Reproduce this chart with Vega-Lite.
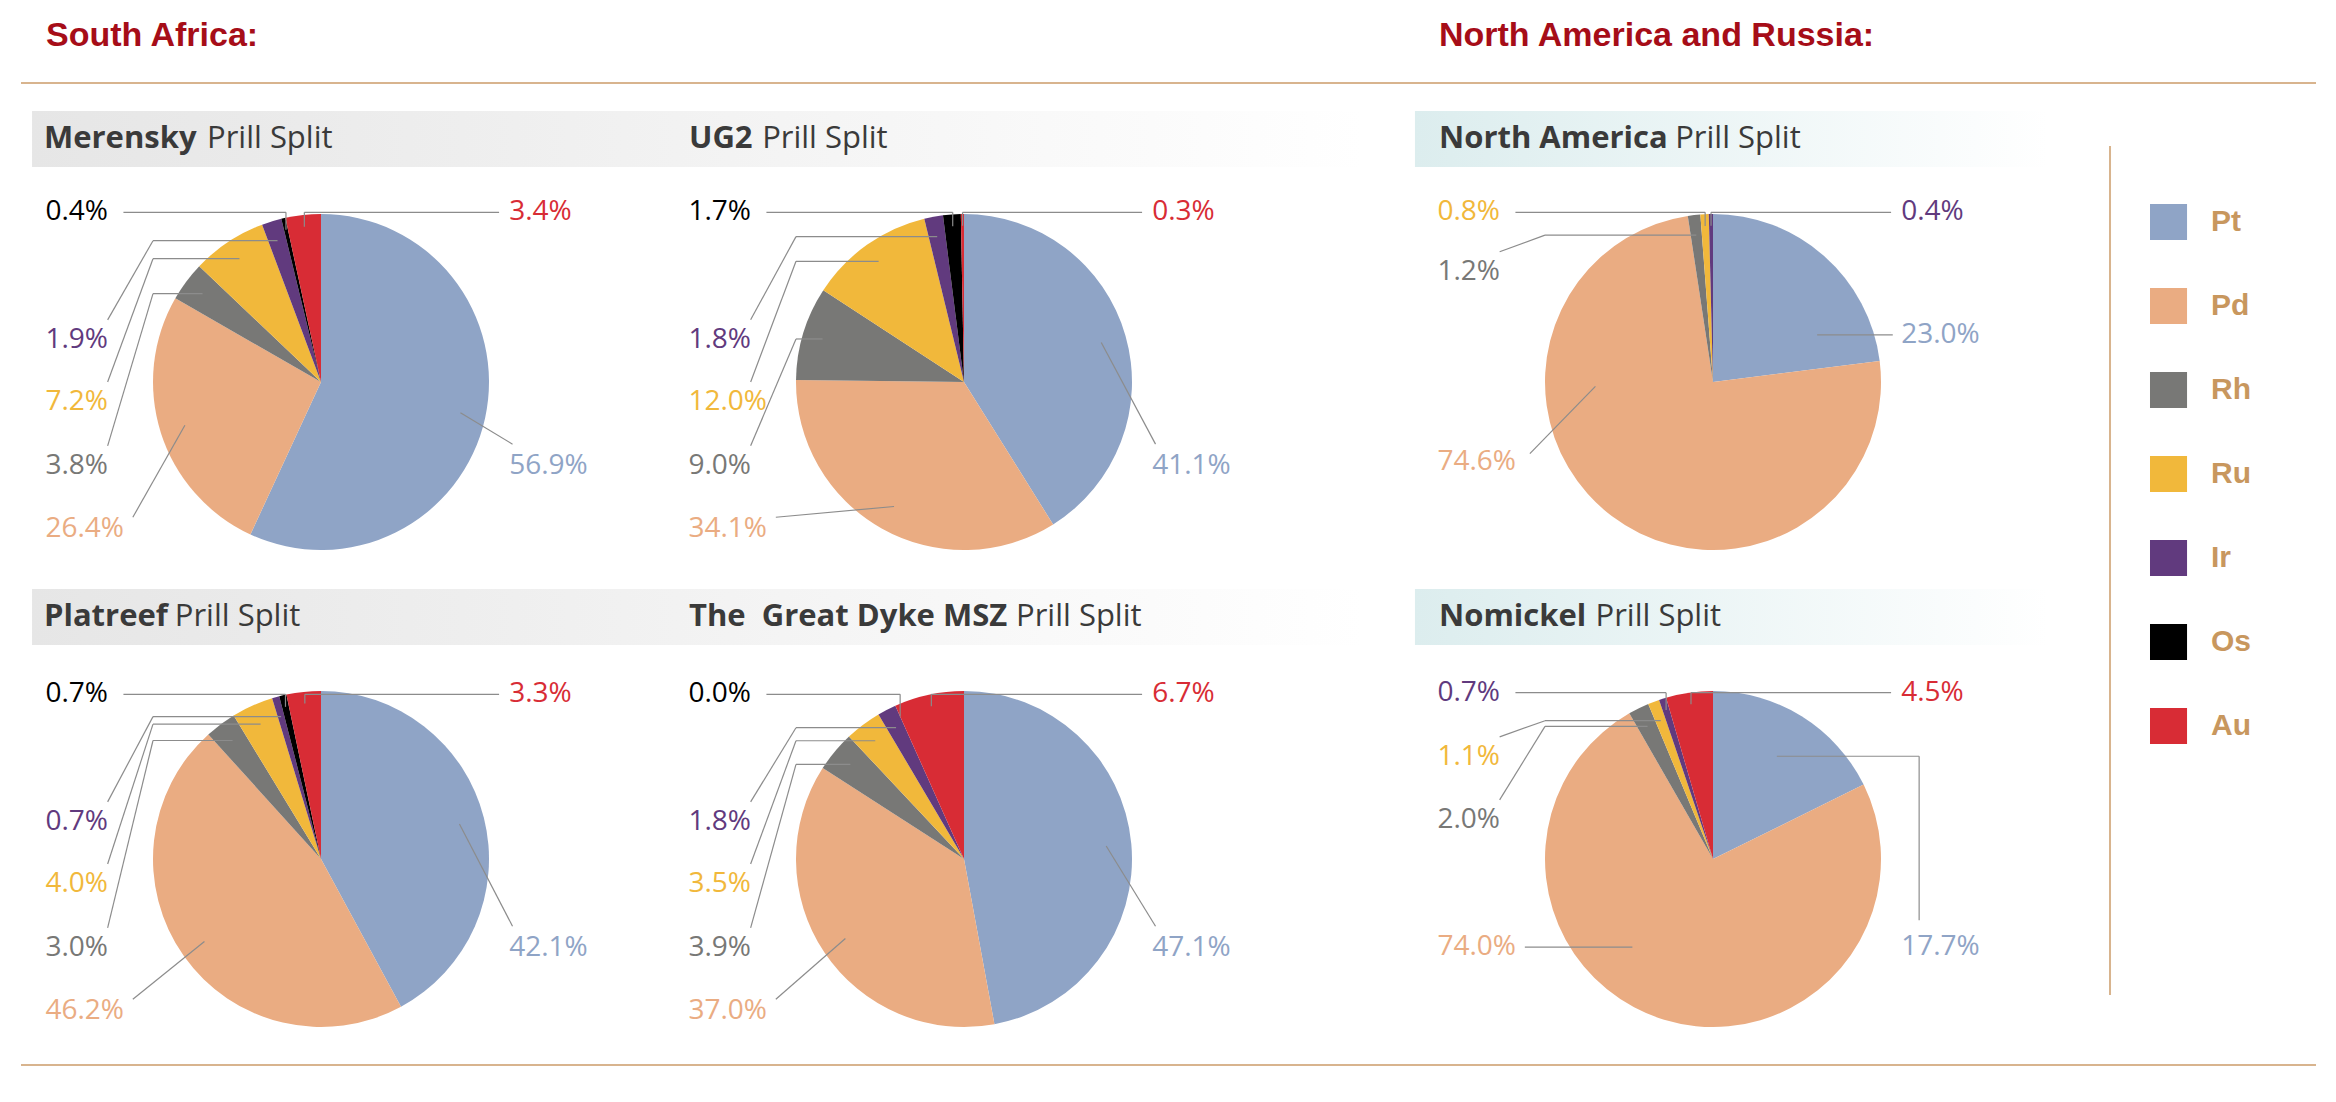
{
  "$schema": "https://vega.github.io/schema/vega-lite/v6.json",
  "background": "#ffffff",
  "padding": {"left": 21, "right": 20, "top": 0, "bottom": 0},
  "config": {"view": {"stroke": null}, "axis": {"disable": true}, "legend": {"disable": true}, "concat": {"spacing": 0}},
  "datasets": {
    "prill": [
      {"region": "South Africa", "panel": "Merensky", "metal": "Pt", "pct": 56.9},
      {"region": "South Africa", "panel": "Merensky", "metal": "Pd", "pct": 26.4},
      {"region": "South Africa", "panel": "Merensky", "metal": "Rh", "pct": 3.8},
      {"region": "South Africa", "panel": "Merensky", "metal": "Ru", "pct": 7.2},
      {"region": "South Africa", "panel": "Merensky", "metal": "Ir", "pct": 1.9},
      {"region": "South Africa", "panel": "Merensky", "metal": "Os", "pct": 0.4},
      {"region": "South Africa", "panel": "Merensky", "metal": "Au", "pct": 3.4},
      {"region": "South Africa", "panel": "UG2", "metal": "Pt", "pct": 41.1},
      {"region": "South Africa", "panel": "UG2", "metal": "Pd", "pct": 34.1},
      {"region": "South Africa", "panel": "UG2", "metal": "Rh", "pct": 9.0},
      {"region": "South Africa", "panel": "UG2", "metal": "Ru", "pct": 12.0},
      {"region": "South Africa", "panel": "UG2", "metal": "Ir", "pct": 1.8},
      {"region": "South Africa", "panel": "UG2", "metal": "Os", "pct": 1.7},
      {"region": "South Africa", "panel": "UG2", "metal": "Au", "pct": 0.3},
      {"region": "South Africa", "panel": "Platreef", "metal": "Pt", "pct": 42.1},
      {"region": "South Africa", "panel": "Platreef", "metal": "Pd", "pct": 46.2},
      {"region": "South Africa", "panel": "Platreef", "metal": "Rh", "pct": 3.0},
      {"region": "South Africa", "panel": "Platreef", "metal": "Ru", "pct": 4.0},
      {"region": "South Africa", "panel": "Platreef", "metal": "Ir", "pct": 0.7},
      {"region": "South Africa", "panel": "Platreef", "metal": "Os", "pct": 0.7},
      {"region": "South Africa", "panel": "Platreef", "metal": "Au", "pct": 3.3},
      {"region": "South Africa", "panel": "The  Great Dyke MSZ", "metal": "Pt", "pct": 47.1},
      {"region": "South Africa", "panel": "The  Great Dyke MSZ", "metal": "Pd", "pct": 37.0},
      {"region": "South Africa", "panel": "The  Great Dyke MSZ", "metal": "Rh", "pct": 3.9},
      {"region": "South Africa", "panel": "The  Great Dyke MSZ", "metal": "Ru", "pct": 3.5},
      {"region": "South Africa", "panel": "The  Great Dyke MSZ", "metal": "Ir", "pct": 1.8},
      {"region": "South Africa", "panel": "The  Great Dyke MSZ", "metal": "Os", "pct": 0.0},
      {"region": "South Africa", "panel": "The  Great Dyke MSZ", "metal": "Au", "pct": 6.7},
      {"region": "North America and Russia", "panel": "North America", "metal": "Pt", "pct": 23.0},
      {"region": "North America and Russia", "panel": "North America", "metal": "Pd", "pct": 74.6},
      {"region": "North America and Russia", "panel": "North America", "metal": "Rh", "pct": 1.2},
      {"region": "North America and Russia", "panel": "North America", "metal": "Ru", "pct": 0.8},
      {"region": "North America and Russia", "panel": "North America", "metal": "Ir", "pct": 0.4},
      {"region": "North America and Russia", "panel": "Nomickel", "metal": "Pt", "pct": 17.7},
      {"region": "North America and Russia", "panel": "Nomickel", "metal": "Pd", "pct": 74.0},
      {"region": "North America and Russia", "panel": "Nomickel", "metal": "Rh", "pct": 2.0},
      {"region": "North America and Russia", "panel": "Nomickel", "metal": "Ru", "pct": 1.1},
      {"region": "North America and Russia", "panel": "Nomickel", "metal": "Ir", "pct": 0.7},
      {"region": "North America and Russia", "panel": "Nomickel", "metal": "Au", "pct": 4.5}
    ]
  },
  "data": {"name": "prill"},
  "transform": [
    {"calculate": "indexof(['Pt','Pd','Rh','Ru','Ir','Os','Au'], datum.metal)", "as": "ord"},
    {"window": [{"op": "sum", "field": "pct", "as": "cum"}], "groupby": ["panel"], "sort": [{"field": "ord", "order": "ascending"}], "frame": [null, 0]},
    {"calculate": "(datum.cum - datum.pct / 2) / 100 * 2 * PI", "as": "theta"},
    {"calculate": "datum.panel == 'North America' ? 1 : (datum.panel == 'Nomickel' ? 2 : 0)", "as": "layout"},
    {"calculate": "[[1.12,-1.64,-1.64,-1.64,-1.64,-1.64,1.12],[1.12,-1.64,-1.64,-1.64,1.12,0,0],[1.12,-1.64,-1.64,-1.64,-1.64,0,1.12]][datum.layout][datum.ord]", "as": "LX"},
    {"calculate": "[[0.5,0.875,0.5,0.12,-0.25,-1.01,-1.01],[-0.28,0.476,-0.655,-1.01,-1.01,0,0],[0.524,0.524,-0.232,-0.607,-0.99,0,-0.99]][datum.layout][datum.ord] + ((datum.panel == 'Platreef' || datum.panel == 'The  Great Dyke MSZ') ? 0.03 : 0)", "as": "LY"},
    {"calculate": "[['SR','SL','EL','EL','EL','TL','TR'],['HR','DL','EL','TL','TR','',''],['ER','HL','EL','EL','TL','','TR']][datum.layout][datum.ord]", "as": "LT"},
    {"calculate": "indexof(['TL','TR','EL','SL','SR','ER','HL','HR','DL'], datum.LT)", "as": "k"},
    {"calculate": "[0.93,0.93,0.88,0.85,0.85,0.72,0.85,0.85,0.85][datum.k]", "as": "rho"},
    {"calculate": "datum.k == 6 ? datum.LX + 1.16 : (datum.k == 7 ? datum.LX - 0.5 : (datum.k == 8 ? datum.LX + 0.94 : datum.rho * sin(datum.theta)))", "as": "PX"},
    {"calculate": "(datum.k == 6 || datum.k == 7) ? datum.LY : (datum.k == 8 ? datum.LY - 0.45 : -datum.rho * cos(datum.theta))", "as": "PY"},
    {"calculate": "datum.LX + [0.464,-0.06,0.37,0.52,0.02,0.107,0.52,-0.05,0.55][datum.k]", "as": "SX"},
    {"calculate": "datum.LY + [0,0,-0.12,-0.07,-0.13,-0.16,0,0,-0.05][datum.k]", "as": "SY"},
    {"calculate": "datum.k <= 1 ? datum.PX : (datum.k == 2 ? -1.0 : datum.SX)", "as": "EX"},
    {"calculate": "datum.k <= 1 ? datum.LY : ((datum.k == 2 || datum.k == 5) ? datum.PY : datum.SY)", "as": "EY"},
    {"calculate": "format(datum.pct, '.1f') + '%'", "as": "label"},
    {"calculate": "replace(datum.panel, '  ', '\u00a0 ')", "as": "PN"},
    {"calculate": "0.6*length(datum.panel) - 0.28*(length(datum.panel) - length(replace(datum.panel, regexp('[iljft ]','g'), ''))) - 0.15*(length(datum.panel) - length(replace(datum.panel, regexp('r','g'), ''))) + 0.15*(length(datum.panel) - length(replace(datum.panel, regexp('[A-Z]','g'), ''))) + 0.4*(length(datum.panel) - length(replace(datum.panel, regexp('m','g'), ''))) + 0.2*(length(datum.panel) - length(replace(datum.panel, regexp('M','g'), ''))) - 0.22*(length(datum.panel) - length(replace(datum.panel, regexp('[TSZ]','g'), '')))", "as": "NW"}
  ],
  "spacing": 0,
  "hconcat": [
    {
      "spacing": 0,
      "vconcat": [
        {
          "width": 656, "height": 578,
          "transform": [{"filter": "datum.panel == 'Merensky'"}],
          "encoding": {
            "x": {"field": "X", "type": "quantitative", "scale": {"domain": [-1.7857, 2.119], "nice": false, "zero": false}},
            "y": {"field": "Y", "type": "quantitative", "scale": {"domain": [-2.2738, 1.1667], "nice": false, "zero": false, "reverse": true}}
          },
          "layer": [
            {"transform": [{"aggregate": [{"op": "count", "as": "n"}]}, {"calculate": "-1.7857", "as": "X"}, {"calculate": "2.119", "as": "X2"}, {"calculate": "-1.786", "as": "Y"}, {"calculate": "-1.774", "as": "Y2"}],
             "mark": {"type": "rect", "color": "#D8B48E"}, "encoding": {"x2": {"field": "X2"}, "y2": {"field": "Y2"}}},
            {"transform": [{"aggregate": [{"op": "count", "as": "n"}]}, {"calculate": "-1.72", "as": "X"}, {"calculate": "2.119", "as": "X2"}, {"calculate": "-1.613", "as": "Y"}, {"calculate": "-1.28", "as": "Y2"}],
             "mark": {"type": "rect", "color": {"gradient": "linear", "x1": 0, "y1": 0, "x2": 1, "y2": 0, "stops": [{"offset": 0, "color": "#e6e6e6"}, {"offset": 1, "color": "#f2f2f2"}]}},
             "encoding": {"x2": {"field": "X2"}, "y2": {"field": "Y2"}}},
            {"transform": [{"aggregate": [{"op": "count", "as": "n"}], "groupby": ["region"]}, {"calculate": "-1.637", "as": "X"}, {"calculate": "-2.0", "as": "Y"}, {"calculate": "datum.region + ':'", "as": "T"}],
             "mark": {"type": "text", "font": "Liberation Sans", "fontWeight": "bold", "fontSize": 34, "color": "#A60D18", "align": "left", "baseline": "alphabetic"},
             "encoding": {"text": {"field": "T"}}},
            {"transform": [{"aggregate": [{"op": "count", "as": "n"}], "groupby": ["PN"]}, {"calculate": "-1.649", "as": "X"}, {"calculate": "-1.446", "as": "Y"}],
             "mark": {"type": "text", "font": "Open Sans", "fontWeight": "bold", "fontSize": 31, "color": "#3a3a3a", "align": "left", "baseline": "middle"},
             "encoding": {"text": {"field": "PN"}}},
            {"transform": [{"aggregate": [{"op": "count", "as": "n"}], "groupby": ["panel", "NW"]}, {"calculate": "-1.649 + (datum.NW + 0.26) * 31 / 168", "as": "X"}, {"calculate": "-1.446", "as": "Y"}],
             "mark": {"type": "text", "font": "Open Sans", "fontSize": 31, "color": "#3a3a3a", "align": "left", "baseline": "middle"},
             "encoding": {"text": {"value": "Prill Split"}}},
            {"transform": [{"calculate": "0", "as": "X"}, {"calculate": "0", "as": "Y"}],
             "mark": {"type": "arc", "outerRadius": 168, "stroke": null},
             "encoding": {"theta": {"field": "pct", "type": "quantitative", "stack": true}, "order": {"field": "ord", "type": "quantitative"},
               "color": {"field": "metal", "type": "nominal", "scale": {"domain": ["Pt","Pd","Rh","Ru","Ir","Os","Au"], "range": ["#8FA4C6","#EAAC82","#787876","#F1B83B","#613A7E","#000000","#D82C35"]}, "legend": null}}},
            {"transform": [{"calculate": "datum.SX", "as": "X"}, {"calculate": "datum.SY", "as": "Y"}, {"calculate": "datum.EX", "as": "X2"}, {"calculate": "datum.EY", "as": "Y2"}],
             "mark": {"type": "rule", "color": "#8c8c8c", "strokeWidth": 1.2}, "encoding": {"x2": {"field": "X2"}, "y2": {"field": "Y2"}}},
            {"transform": [{"calculate": "datum.EX", "as": "X"}, {"calculate": "datum.EY", "as": "Y"}, {"calculate": "datum.PX", "as": "X2"}, {"calculate": "datum.PY", "as": "Y2"}],
             "mark": {"type": "rule", "color": "#8c8c8c", "strokeWidth": 1.2}, "encoding": {"x2": {"field": "X2"}, "y2": {"field": "Y2"}}},
            {"transform": [{"calculate": "datum.LX", "as": "X"}, {"calculate": "datum.LY", "as": "Y"}],
             "mark": {"type": "text", "font": "Open Sans", "fontSize": 28, "align": "left", "baseline": "middle"},
             "encoding": {"text": {"field": "label"}, "color": {"field": "metal", "type": "nominal", "scale": {"domain": ["Pt","Pd","Rh","Ru","Ir","Os","Au"], "range": ["#8FA4C6","#EAAC82","#787876","#F1B83B","#613A7E","#000000","#D82C35"]}, "legend": null}}}
          ]
        },
        {
          "width": 656, "height": 524,
          "transform": [{"filter": "datum.panel == 'Platreef'"}],
          "encoding": {
            "x": {"field": "X", "type": "quantitative", "scale": {"domain": [-1.7857, 2.119], "nice": false, "zero": false}},
            "y": {"field": "Y", "type": "quantitative", "scale": {"domain": [-1.6726, 1.4464], "nice": false, "zero": false, "reverse": true}}
          },
          "layer": [
            {"transform": [{"aggregate": [{"op": "count", "as": "n"}]}, {"calculate": "-1.7857", "as": "X"}, {"calculate": "2.119", "as": "X2"}, {"calculate": "1.22", "as": "Y"}, {"calculate": "1.232", "as": "Y2"}],
             "mark": {"type": "rect", "color": "#D8B48E"}, "encoding": {"x2": {"field": "X2"}, "y2": {"field": "Y2"}}},
            {"transform": [{"aggregate": [{"op": "count", "as": "n"}]}, {"calculate": "-1.72", "as": "X"}, {"calculate": "2.119", "as": "X2"}, {"calculate": "-1.607", "as": "Y"}, {"calculate": "-1.274", "as": "Y2"}],
             "mark": {"type": "rect", "color": {"gradient": "linear", "x1": 0, "y1": 0, "x2": 1, "y2": 0, "stops": [{"offset": 0, "color": "#e6e6e6"}, {"offset": 1, "color": "#f2f2f2"}]}},
             "encoding": {"x2": {"field": "X2"}, "y2": {"field": "Y2"}}},
            {"transform": [{"aggregate": [{"op": "count", "as": "n"}], "groupby": ["PN"]}, {"calculate": "-1.649", "as": "X"}, {"calculate": "-1.44", "as": "Y"}],
             "mark": {"type": "text", "font": "Open Sans", "fontWeight": "bold", "fontSize": 31, "color": "#3a3a3a", "align": "left", "baseline": "middle"},
             "encoding": {"text": {"field": "PN"}}},
            {"transform": [{"aggregate": [{"op": "count", "as": "n"}], "groupby": ["panel", "NW"]}, {"calculate": "-1.649 + (datum.NW + 0.26) * 31 / 168", "as": "X"}, {"calculate": "-1.44", "as": "Y"}],
             "mark": {"type": "text", "font": "Open Sans", "fontSize": 31, "color": "#3a3a3a", "align": "left", "baseline": "middle"},
             "encoding": {"text": {"value": "Prill Split"}}},
            {"transform": [{"calculate": "0", "as": "X"}, {"calculate": "0", "as": "Y"}],
             "mark": {"type": "arc", "outerRadius": 168, "stroke": null},
             "encoding": {"theta": {"field": "pct", "type": "quantitative", "stack": true}, "order": {"field": "ord", "type": "quantitative"},
               "color": {"field": "metal", "type": "nominal", "scale": {"domain": ["Pt","Pd","Rh","Ru","Ir","Os","Au"], "range": ["#8FA4C6","#EAAC82","#787876","#F1B83B","#613A7E","#000000","#D82C35"]}, "legend": null}}},
            {"transform": [{"calculate": "datum.SX", "as": "X"}, {"calculate": "datum.SY", "as": "Y"}, {"calculate": "datum.EX", "as": "X2"}, {"calculate": "datum.EY", "as": "Y2"}],
             "mark": {"type": "rule", "color": "#8c8c8c", "strokeWidth": 1.2}, "encoding": {"x2": {"field": "X2"}, "y2": {"field": "Y2"}}},
            {"transform": [{"calculate": "datum.EX", "as": "X"}, {"calculate": "datum.EY", "as": "Y"}, {"calculate": "datum.PX", "as": "X2"}, {"calculate": "datum.PY", "as": "Y2"}],
             "mark": {"type": "rule", "color": "#8c8c8c", "strokeWidth": 1.2}, "encoding": {"x2": {"field": "X2"}, "y2": {"field": "Y2"}}},
            {"transform": [{"calculate": "datum.LX", "as": "X"}, {"calculate": "datum.LY", "as": "Y"}],
             "mark": {"type": "text", "font": "Open Sans", "fontSize": 28, "align": "left", "baseline": "middle"},
             "encoding": {"text": {"field": "label"}, "color": {"field": "metal", "type": "nominal", "scale": {"domain": ["Pt","Pd","Rh","Ru","Ir","Os","Au"], "range": ["#8FA4C6","#EAAC82","#787876","#F1B83B","#613A7E","#000000","#D82C35"]}, "legend": null}}}
          ]
        }
      ]
    },
    {
      "spacing": 0,
      "vconcat": [
        {
          "width": 713, "height": 578,
          "transform": [{"filter": "datum.panel == 'UG2'"}],
          "encoding": {
            "x": {"field": "X", "type": "quantitative", "scale": {"domain": [-1.7083, 2.5357], "nice": false, "zero": false}},
            "y": {"field": "Y", "type": "quantitative", "scale": {"domain": [-2.2738, 1.1667], "nice": false, "zero": false, "reverse": true}}
          },
          "layer": [
            {"transform": [{"aggregate": [{"op": "count", "as": "n"}]}, {"calculate": "-1.7083", "as": "X"}, {"calculate": "2.5357", "as": "X2"}, {"calculate": "-1.786", "as": "Y"}, {"calculate": "-1.774", "as": "Y2"}],
             "mark": {"type": "rect", "color": "#D8B48E"}, "encoding": {"x2": {"field": "X2"}, "y2": {"field": "Y2"}}},
            {"transform": [{"aggregate": [{"op": "count", "as": "n"}]}, {"calculate": "-1.7083", "as": "X"}, {"calculate": "2.375", "as": "X2"}, {"calculate": "-1.613", "as": "Y"}, {"calculate": "-1.28", "as": "Y2"}],
             "mark": {"type": "rect", "color": {"gradient": "linear", "x1": 0, "y1": 0, "x2": 1, "y2": 0, "stops": [{"offset": 0, "color": "#f2f2f2"}, {"offset": 1, "color": "#ffffff"}]}},
             "encoding": {"x2": {"field": "X2"}, "y2": {"field": "Y2"}}},
            {"transform": [{"aggregate": [{"op": "count", "as": "n"}], "groupby": ["PN"]}, {"calculate": "-1.637", "as": "X"}, {"calculate": "-1.446", "as": "Y"}],
             "mark": {"type": "text", "font": "Open Sans", "fontWeight": "bold", "fontSize": 31, "color": "#3a3a3a", "align": "left", "baseline": "middle"},
             "encoding": {"text": {"field": "PN"}}},
            {"transform": [{"aggregate": [{"op": "count", "as": "n"}], "groupby": ["panel", "NW"]}, {"calculate": "-1.637 + (datum.NW + 0.26) * 31 / 168", "as": "X"}, {"calculate": "-1.446", "as": "Y"}],
             "mark": {"type": "text", "font": "Open Sans", "fontSize": 31, "color": "#3a3a3a", "align": "left", "baseline": "middle"},
             "encoding": {"text": {"value": "Prill Split"}}},
            {"transform": [{"calculate": "0", "as": "X"}, {"calculate": "0", "as": "Y"}],
             "mark": {"type": "arc", "outerRadius": 168, "stroke": null},
             "encoding": {"theta": {"field": "pct", "type": "quantitative", "stack": true}, "order": {"field": "ord", "type": "quantitative"},
               "color": {"field": "metal", "type": "nominal", "scale": {"domain": ["Pt","Pd","Rh","Ru","Ir","Os","Au"], "range": ["#8FA4C6","#EAAC82","#787876","#F1B83B","#613A7E","#000000","#D82C35"]}, "legend": null}}},
            {"transform": [{"calculate": "datum.SX", "as": "X"}, {"calculate": "datum.SY", "as": "Y"}, {"calculate": "datum.EX", "as": "X2"}, {"calculate": "datum.EY", "as": "Y2"}],
             "mark": {"type": "rule", "color": "#8c8c8c", "strokeWidth": 1.2}, "encoding": {"x2": {"field": "X2"}, "y2": {"field": "Y2"}}},
            {"transform": [{"calculate": "datum.EX", "as": "X"}, {"calculate": "datum.EY", "as": "Y"}, {"calculate": "datum.PX", "as": "X2"}, {"calculate": "datum.PY", "as": "Y2"}],
             "mark": {"type": "rule", "color": "#8c8c8c", "strokeWidth": 1.2}, "encoding": {"x2": {"field": "X2"}, "y2": {"field": "Y2"}}},
            {"transform": [{"calculate": "datum.LX", "as": "X"}, {"calculate": "datum.LY", "as": "Y"}],
             "mark": {"type": "text", "font": "Open Sans", "fontSize": 28, "align": "left", "baseline": "middle"},
             "encoding": {"text": {"field": "label"}, "color": {"field": "metal", "type": "nominal", "scale": {"domain": ["Pt","Pd","Rh","Ru","Ir","Os","Au"], "range": ["#8FA4C6","#EAAC82","#787876","#F1B83B","#613A7E","#000000","#D82C35"]}, "legend": null}}}
          ]
        },
        {
          "width": 713, "height": 524,
          "transform": [{"filter": "datum.panel == 'The  Great Dyke MSZ'"}],
          "encoding": {
            "x": {"field": "X", "type": "quantitative", "scale": {"domain": [-1.7083, 2.5357], "nice": false, "zero": false}},
            "y": {"field": "Y", "type": "quantitative", "scale": {"domain": [-1.6726, 1.4464], "nice": false, "zero": false, "reverse": true}}
          },
          "layer": [
            {"transform": [{"aggregate": [{"op": "count", "as": "n"}]}, {"calculate": "-1.7083", "as": "X"}, {"calculate": "2.5357", "as": "X2"}, {"calculate": "1.22", "as": "Y"}, {"calculate": "1.232", "as": "Y2"}],
             "mark": {"type": "rect", "color": "#D8B48E"}, "encoding": {"x2": {"field": "X2"}, "y2": {"field": "Y2"}}},
            {"transform": [{"aggregate": [{"op": "count", "as": "n"}]}, {"calculate": "-1.7083", "as": "X"}, {"calculate": "2.375", "as": "X2"}, {"calculate": "-1.607", "as": "Y"}, {"calculate": "-1.274", "as": "Y2"}],
             "mark": {"type": "rect", "color": {"gradient": "linear", "x1": 0, "y1": 0, "x2": 1, "y2": 0, "stops": [{"offset": 0, "color": "#f2f2f2"}, {"offset": 1, "color": "#ffffff"}]}},
             "encoding": {"x2": {"field": "X2"}, "y2": {"field": "Y2"}}},
            {"transform": [{"aggregate": [{"op": "count", "as": "n"}], "groupby": ["PN"]}, {"calculate": "-1.637", "as": "X"}, {"calculate": "-1.44", "as": "Y"}],
             "mark": {"type": "text", "font": "Open Sans", "fontWeight": "bold", "fontSize": 31, "color": "#3a3a3a", "align": "left", "baseline": "middle"},
             "encoding": {"text": {"field": "PN"}}},
            {"transform": [{"aggregate": [{"op": "count", "as": "n"}], "groupby": ["panel", "NW"]}, {"calculate": "-1.637 + (datum.NW + 0.26) * 31 / 168", "as": "X"}, {"calculate": "-1.44", "as": "Y"}],
             "mark": {"type": "text", "font": "Open Sans", "fontSize": 31, "color": "#3a3a3a", "align": "left", "baseline": "middle"},
             "encoding": {"text": {"value": "Prill Split"}}},
            {"transform": [{"calculate": "0", "as": "X"}, {"calculate": "0", "as": "Y"}],
             "mark": {"type": "arc", "outerRadius": 168, "stroke": null},
             "encoding": {"theta": {"field": "pct", "type": "quantitative", "stack": true}, "order": {"field": "ord", "type": "quantitative"},
               "color": {"field": "metal", "type": "nominal", "scale": {"domain": ["Pt","Pd","Rh","Ru","Ir","Os","Au"], "range": ["#8FA4C6","#EAAC82","#787876","#F1B83B","#613A7E","#000000","#D82C35"]}, "legend": null}}},
            {"transform": [{"calculate": "datum.SX", "as": "X"}, {"calculate": "datum.SY", "as": "Y"}, {"calculate": "datum.EX", "as": "X2"}, {"calculate": "datum.EY", "as": "Y2"}],
             "mark": {"type": "rule", "color": "#8c8c8c", "strokeWidth": 1.2}, "encoding": {"x2": {"field": "X2"}, "y2": {"field": "Y2"}}},
            {"transform": [{"calculate": "datum.EX", "as": "X"}, {"calculate": "datum.EY", "as": "Y"}, {"calculate": "datum.PX", "as": "X2"}, {"calculate": "datum.PY", "as": "Y2"}],
             "mark": {"type": "rule", "color": "#8c8c8c", "strokeWidth": 1.2}, "encoding": {"x2": {"field": "X2"}, "y2": {"field": "Y2"}}},
            {"transform": [{"calculate": "datum.LX", "as": "X"}, {"calculate": "datum.LY", "as": "Y"}],
             "mark": {"type": "text", "font": "Open Sans", "fontSize": 28, "align": "left", "baseline": "middle"},
             "encoding": {"text": {"field": "label"}, "color": {"field": "metal", "type": "nominal", "scale": {"domain": ["Pt","Pd","Rh","Ru","Ir","Os","Au"], "range": ["#8FA4C6","#EAAC82","#787876","#F1B83B","#613A7E","#000000","#D82C35"]}, "legend": null}}}
          ]
        }
      ]
    },
    {
      "spacing": 0,
      "vconcat": [
        {
          "width": 719, "height": 578,
          "transform": [{"filter": "datum.panel == 'North America'"}],
          "encoding": {
            "x": {"field": "X", "type": "quantitative", "scale": {"domain": [-1.9226, 2.3571], "nice": false, "zero": false}},
            "y": {"field": "Y", "type": "quantitative", "scale": {"domain": [-2.2738, 1.1667], "nice": false, "zero": false, "reverse": true}}
          },
          "layer": [
            {"transform": [{"aggregate": [{"op": "count", "as": "n"}]}, {"calculate": "-1.9226", "as": "X"}, {"calculate": "2.3571", "as": "X2"}, {"calculate": "-1.786", "as": "Y"}, {"calculate": "-1.774", "as": "Y2"}],
             "mark": {"type": "rect", "color": "#D8B48E"}, "encoding": {"x2": {"field": "X2"}, "y2": {"field": "Y2"}}},
            {"transform": [{"aggregate": [{"op": "count", "as": "n"}]}, {"calculate": "-1.774", "as": "X"}, {"calculate": "1.994", "as": "X2"}, {"calculate": "-1.613", "as": "Y"}, {"calculate": "-1.28", "as": "Y2"}],
             "mark": {"type": "rect", "color": {"gradient": "linear", "x1": 0, "y1": 0, "x2": 1, "y2": 0, "stops": [{"offset": 0, "color": "#dcedee"}, {"offset": 1, "color": "#ffffff"}]}},
             "encoding": {"x2": {"field": "X2"}, "y2": {"field": "Y2"}}},
            {"transform": [{"aggregate": [{"op": "count", "as": "n"}], "groupby": ["region"]}, {"calculate": "-1.631", "as": "X"}, {"calculate": "-2.0", "as": "Y"}, {"calculate": "datum.region + ':'", "as": "T"}],
             "mark": {"type": "text", "font": "Liberation Sans", "fontWeight": "bold", "fontSize": 34, "color": "#A60D18", "align": "left", "baseline": "alphabetic"},
             "encoding": {"text": {"field": "T"}}},
            {"transform": [{"aggregate": [{"op": "count", "as": "n"}], "groupby": ["PN"]}, {"calculate": "-1.631", "as": "X"}, {"calculate": "-1.446", "as": "Y"}],
             "mark": {"type": "text", "font": "Open Sans", "fontWeight": "bold", "fontSize": 31, "color": "#3a3a3a", "align": "left", "baseline": "middle"},
             "encoding": {"text": {"field": "PN"}}},
            {"transform": [{"aggregate": [{"op": "count", "as": "n"}], "groupby": ["panel", "NW"]}, {"calculate": "-1.631 + (datum.NW + 0.26) * 31 / 168", "as": "X"}, {"calculate": "-1.446", "as": "Y"}],
             "mark": {"type": "text", "font": "Open Sans", "fontSize": 31, "color": "#3a3a3a", "align": "left", "baseline": "middle"},
             "encoding": {"text": {"value": "Prill Split"}}},
            {"transform": [{"calculate": "0", "as": "X"}, {"calculate": "0", "as": "Y"}],
             "mark": {"type": "arc", "outerRadius": 168, "stroke": null},
             "encoding": {"theta": {"field": "pct", "type": "quantitative", "stack": true}, "order": {"field": "ord", "type": "quantitative"},
               "color": {"field": "metal", "type": "nominal", "scale": {"domain": ["Pt","Pd","Rh","Ru","Ir","Os","Au"], "range": ["#8FA4C6","#EAAC82","#787876","#F1B83B","#613A7E","#000000","#D82C35"]}, "legend": null}}},
            {"transform": [{"calculate": "datum.SX", "as": "X"}, {"calculate": "datum.SY", "as": "Y"}, {"calculate": "datum.EX", "as": "X2"}, {"calculate": "datum.EY", "as": "Y2"}],
             "mark": {"type": "rule", "color": "#8c8c8c", "strokeWidth": 1.2}, "encoding": {"x2": {"field": "X2"}, "y2": {"field": "Y2"}}},
            {"transform": [{"calculate": "datum.EX", "as": "X"}, {"calculate": "datum.EY", "as": "Y"}, {"calculate": "datum.PX", "as": "X2"}, {"calculate": "datum.PY", "as": "Y2"}],
             "mark": {"type": "rule", "color": "#8c8c8c", "strokeWidth": 1.2}, "encoding": {"x2": {"field": "X2"}, "y2": {"field": "Y2"}}},
            {"transform": [{"calculate": "datum.LX", "as": "X"}, {"calculate": "datum.LY", "as": "Y"}],
             "mark": {"type": "text", "font": "Open Sans", "fontSize": 28, "align": "left", "baseline": "middle"},
             "encoding": {"text": {"field": "label"}, "color": {"field": "metal", "type": "nominal", "scale": {"domain": ["Pt","Pd","Rh","Ru","Ir","Os","Au"], "range": ["#8FA4C6","#EAAC82","#787876","#F1B83B","#613A7E","#000000","#D82C35"]}, "legend": null}}}
          ]
        },
        {
          "width": 719, "height": 524,
          "transform": [{"filter": "datum.panel == 'Nomickel'"}],
          "encoding": {
            "x": {"field": "X", "type": "quantitative", "scale": {"domain": [-1.9226, 2.3571], "nice": false, "zero": false}},
            "y": {"field": "Y", "type": "quantitative", "scale": {"domain": [-1.6726, 1.4464], "nice": false, "zero": false, "reverse": true}}
          },
          "layer": [
            {"transform": [{"aggregate": [{"op": "count", "as": "n"}]}, {"calculate": "-1.9226", "as": "X"}, {"calculate": "2.3571", "as": "X2"}, {"calculate": "1.22", "as": "Y"}, {"calculate": "1.232", "as": "Y2"}],
             "mark": {"type": "rect", "color": "#D8B48E"}, "encoding": {"x2": {"field": "X2"}, "y2": {"field": "Y2"}}},
            {"transform": [{"aggregate": [{"op": "count", "as": "n"}]}, {"calculate": "-1.774", "as": "X"}, {"calculate": "1.994", "as": "X2"}, {"calculate": "-1.607", "as": "Y"}, {"calculate": "-1.274", "as": "Y2"}],
             "mark": {"type": "rect", "color": {"gradient": "linear", "x1": 0, "y1": 0, "x2": 1, "y2": 0, "stops": [{"offset": 0, "color": "#dcedee"}, {"offset": 1, "color": "#ffffff"}]}},
             "encoding": {"x2": {"field": "X2"}, "y2": {"field": "Y2"}}},
            {"transform": [{"aggregate": [{"op": "count", "as": "n"}], "groupby": ["PN"]}, {"calculate": "-1.631", "as": "X"}, {"calculate": "-1.44", "as": "Y"}],
             "mark": {"type": "text", "font": "Open Sans", "fontWeight": "bold", "fontSize": 31, "color": "#3a3a3a", "align": "left", "baseline": "middle"},
             "encoding": {"text": {"field": "PN"}}},
            {"transform": [{"aggregate": [{"op": "count", "as": "n"}], "groupby": ["panel", "NW"]}, {"calculate": "-1.631 + (datum.NW + 0.26) * 31 / 168", "as": "X"}, {"calculate": "-1.44", "as": "Y"}],
             "mark": {"type": "text", "font": "Open Sans", "fontSize": 31, "color": "#3a3a3a", "align": "left", "baseline": "middle"},
             "encoding": {"text": {"value": "Prill Split"}}},
            {"transform": [{"calculate": "0", "as": "X"}, {"calculate": "0", "as": "Y"}],
             "mark": {"type": "arc", "outerRadius": 168, "stroke": null},
             "encoding": {"theta": {"field": "pct", "type": "quantitative", "stack": true}, "order": {"field": "ord", "type": "quantitative"},
               "color": {"field": "metal", "type": "nominal", "scale": {"domain": ["Pt","Pd","Rh","Ru","Ir","Os","Au"], "range": ["#8FA4C6","#EAAC82","#787876","#F1B83B","#613A7E","#000000","#D82C35"]}, "legend": null}}},
            {"transform": [{"calculate": "datum.SX", "as": "X"}, {"calculate": "datum.SY", "as": "Y"}, {"calculate": "datum.EX", "as": "X2"}, {"calculate": "datum.EY", "as": "Y2"}],
             "mark": {"type": "rule", "color": "#8c8c8c", "strokeWidth": 1.2}, "encoding": {"x2": {"field": "X2"}, "y2": {"field": "Y2"}}},
            {"transform": [{"calculate": "datum.EX", "as": "X"}, {"calculate": "datum.EY", "as": "Y"}, {"calculate": "datum.PX", "as": "X2"}, {"calculate": "datum.PY", "as": "Y2"}],
             "mark": {"type": "rule", "color": "#8c8c8c", "strokeWidth": 1.2}, "encoding": {"x2": {"field": "X2"}, "y2": {"field": "Y2"}}},
            {"transform": [{"calculate": "datum.LX", "as": "X"}, {"calculate": "datum.LY", "as": "Y"}],
             "mark": {"type": "text", "font": "Open Sans", "fontSize": 28, "align": "left", "baseline": "middle"},
             "encoding": {"text": {"field": "label"}, "color": {"field": "metal", "type": "nominal", "scale": {"domain": ["Pt","Pd","Rh","Ru","Ir","Os","Au"], "range": ["#8FA4C6","#EAAC82","#787876","#F1B83B","#613A7E","#000000","#D82C35"]}, "legend": null}}}
          ]
        }
      ]
    },
    {
      "width": 207, "height": 1102,
      "encoding": {
        "x": {"field": "X", "type": "quantitative", "scale": {"domain": [0, 2.464], "nice": false, "zero": false}},
        "y": {"field": "Y", "type": "quantitative", "scale": {"domain": [-2.643, 10.476], "nice": false, "zero": false, "reverse": true}}
      },
      "layer": [
        {"transform": [{"aggregate": [{"op": "count", "as": "n"}]}, {"calculate": "0", "as": "X"}, {"calculate": "2.464", "as": "X2"}, {"calculate": "-1.667", "as": "Y"}, {"calculate": "-1.643", "as": "Y2"}],
         "mark": {"type": "rect", "color": "#D8B48E"}, "encoding": {"x2": {"field": "X2"}, "y2": {"field": "Y2"}}},
        {"transform": [{"aggregate": [{"op": "count", "as": "n"}]}, {"calculate": "0", "as": "X"}, {"calculate": "2.464", "as": "X2"}, {"calculate": "10.024", "as": "Y"}, {"calculate": "10.048", "as": "Y2"}],
         "mark": {"type": "rect", "color": "#D8B48E"}, "encoding": {"x2": {"field": "X2"}, "y2": {"field": "Y2"}}},
        {"transform": [{"aggregate": [{"op": "count", "as": "n"}]}, {"calculate": "0", "as": "X"}, {"calculate": "0.024", "as": "X2"}, {"calculate": "-0.905", "as": "Y"}, {"calculate": "9.202", "as": "Y2"}],
         "mark": {"type": "rect", "color": "#D8B48E"}, "encoding": {"x2": {"field": "X2"}, "y2": {"field": "Y2"}}},
        {"transform": [{"aggregate": [{"op": "count", "as": "n"}], "groupby": ["metal", "ord"]}, {"calculate": "0.488", "as": "X"}, {"calculate": "0.929", "as": "X2"}, {"calculate": "datum.ord - 0.214", "as": "Y"}, {"calculate": "datum.ord + 0.214", "as": "Y2"}],
         "mark": {"type": "rect"},
         "encoding": {"x2": {"field": "X2"}, "y2": {"field": "Y2"}, "color": {"field": "metal", "type": "nominal", "scale": {"domain": ["Pt","Pd","Rh","Ru","Ir","Os","Au"], "range": ["#8FA4C6","#EAAC82","#787876","#F1B83B","#613A7E","#000000","#D82C35"]}, "legend": null}}},
        {"transform": [{"aggregate": [{"op": "count", "as": "n"}], "groupby": ["metal", "ord"]}, {"calculate": "1.214", "as": "X"}, {"calculate": "datum.ord", "as": "Y"}],
         "mark": {"type": "text", "font": "Liberation Sans", "fontWeight": "bold", "fontSize": 30, "color": "#C8975E", "align": "left", "baseline": "middle"},
         "encoding": {"text": {"field": "metal"}}}
      ]
    }
  ]
}
